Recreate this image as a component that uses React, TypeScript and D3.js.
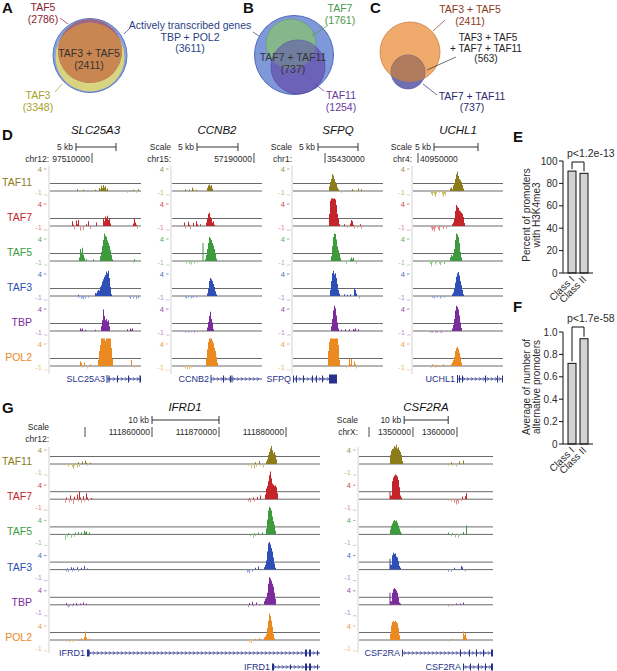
import * as d3 from 'd3';

type Pt = [number, number];

const FONT = '"Liberation Sans", Arial, Helvetica, sans-serif';
const INK = '#2a2a2a';
const GENE = '#27308a';
const CLIP = 4.6;

// ---- Venn counts ----
const vennANames = ['TAF5', 'TAF3', 'TAF3 + TAF5'];
const vennACounts = [2786, 3348, 2411];
const activeNames = ['Actively transcribed genes', 'TBP + POL2'];
const activeCount = 3611;
const vennBNames = ['TAF7', 'TAF11', 'TAF7 + TAF11'];
const vennBCounts = [1761, 1254, 737];
const vennCNames = ['TAF3 + TAF5', 'TAF3 + TAF5', '+ TAF7 + TAF11', 'TAF7 + TAF11'];
const vennCCounts = [2411, 563, 737];

// ---- bar panels E / F ----
const barClasses = ['Class I', 'Class II'];
const h3k4me3Pct = [91, 89];
const pctTicks = [0, 20, 40, 60, 80, 100];
const altPromoters = [0.72, 0.94];
const altTicks = [0, 0.2, 0.4, 0.6, 0.8, 1.0];
const pValues = ['p<1.2e-13', 'p<1.7e-58'];

// ---- tracks ----
const trackNames = ['TAF11', 'TAF7', 'TAF5', 'TAF3', 'TBP', 'POL2'];
const trackColors = ['#8c7c1c', '#c4252b', '#3d9b3d', '#2e4fb5', '#7b2c9c', '#ec8a22'];
const trackNegColors = ['#c9bd72', '#e38b8f', '#96c98f', '#8fa2da', '#b98fce', '#f3bb7c'];
const trackTicks = [4, -1];

// ---- loci, panel D ----
const lociD = ['SLC25A3', 'CCNB2', 'SFPQ', 'UCHL1'];
const lociDChrom = ['chr12', 'chr15', 'chr1', 'chr4'];
const lociDStart = [97504750, 57180000, 35426000, 40949432];
const lociDBinBp = [125, 122, 125, 113.6];
const lociDCoord = [97510000, 57190000, 35430000, 40950000];
const lociDScaleStart = [97508000, 57183050, 35429125, 40951818];

// ---- loci, panel G ----
const lociG = ['IFRD1', 'CSF2RA'];
const lociGChrom = ['chr12', 'chrX'];
const lociGStart = [111844776, 1337727];
const lociGBinBp = [149.25, 227.3];
const lociGTicks = [[111850000, 111860000, 111870000, 111880000], [1340000, 1350000, 1360000]];
const lociGScaleStart = [111860000, 1348000];

// ---- signals: [bin, value] ----
const sigSLC25A3: Pt[][] = [
  [[26,0],[27,0.3],[28,0],[30,-0.2],[31,0],[33,0.2],[34,0],[44,0],[45,0.2],[46,0],[48,0],[49,0.5],[50,0.3],[51,0.9],[52,0.5],[53,1],[54,0.6],[55,0.8],[56,0.2],[57,0.4],[58,0],[76,0],[77,-0.3],[78,0],[82,0],[83,0.2],[84,0],[86,-0.3],[87,0],[88,0.3],[89,0]],
  [[21,0],[22,0.8],[23,0.2],[24,-0.6],[25,0],[26,0.9],[27,0.3],[28,1.0],[29,0],[30,-0.8],[31,0],[33,-0.7],[34,0],[36,0.3],[37,0],[38,0.8],[39,0],[40,-0.5],[41,0],[45,0],[46,0.6],[47,0],[52,0],[53,1.2],[54,0.8],[55,1.6],[56,1.2],[57,1.7],[58,1.0],[59,1.3],[60,0.4],[61,0],[82,0],[83,0.4],[84,1.2],[85,0.6],[86,0.2],[87,-0.4],[88,0]],
  [[28,0],[29,0.6],[30,2.0],[31,1.4],[32,2.2],[33,1.0],[34,0.5],[35,0],[36,0.3],[37,0],[42,0],[43,0.3],[44,0],[49,0],[50,0.8],[51,1.5],[52,2.5],[53,3.5],[54,4.6],[55,4.2],[56,4.0],[57,3.4],[58,3.0],[59,2.5],[60,1.8],[61,1.0],[62,0.3],[63,0],[82,0],[83,-0.3],[84,0.3],[85,0],[87,-0.2],[88,0]],
  [[26,0],[27,-0.2],[28,0.2],[29,-0.3],[30,0],[31,-0.5],[32,-0.3],[33,-0.6],[34,-0.2],[35,-0.4],[36,0],[38,-0.3],[39,0],[44,0],[45,0.5],[46,0.4],[47,0.8],[48,1.0],[49,0.9],[50,1.5],[51,1.8],[52,2.4],[53,2.8],[54,3.2],[55,3.5],[56,4.1],[57,3.8],[58,4.2],[59,3.0],[60,1.5],[61,0.3],[62,0],[78,0],[79,-0.3],[80,-0.5],[81,0],[83,-0.4],[84,0],[86,-0.5],[87,-0.2],[88,-0.4],[89,0]],
  [[29,0],[30,0.4],[31,0.2],[32,0.4],[33,0],[35,0.2],[36,0],[44,0],[45,0.2],[46,0],[50,0],[51,0.8],[52,1.8],[53,3.6],[54,2.5],[55,1.8],[56,2.0],[57,1.6],[58,1.8],[59,0.8],[60,0],[76,0],[77,0.3],[78,0],[80,0.4],[81,0.2],[82,0.4],[83,0]],
  [[29,0],[30,0.8],[31,0.5],[32,-0.3],[33,0],[34,0.6],[35,0],[37,-0.4],[38,0],[40,0.3],[41,0],[47,0],[48,1.0],[49,2.5],[50,3.5],[51,4.6],[54,4.6],[55,4.2],[56,4.6],[60,4.6],[61,3.0],[62,1.2],[63,0],[80,0],[81,1.0],[82,0],[84,-0.3],[85,0]],
];
const sigCCNB2: Pt[][] = [
  [[12,0],[13,0.3],[14,0],[17,0.2],[18,0],[20,0.6],[21,0.2],[22,0],[24,0.2],[25,0],[34,0],[35,0.5],[36,0.9],[37,1.1],[38,0.8],[39,1.0],[40,0.4],[41,0]],
  [[11,0],[12,0.6],[13,-0.4],[14,0],[16,0.7],[17,0.2],[18,-0.5],[19,0],[21,0.5],[22,0],[24,0.8],[25,0.3],[26,0],[28,0.3],[29,0],[33,0],[34,0.6],[35,1.2],[36,2.0],[37,2.2],[38,1.5],[39,1.2],[40,0.6],[41,0.8],[42,0.2],[43,0]],
  [[13,0],[14,-0.4],[15,0],[17,-0.5],[18,-0.2],[19,-0.6],[20,0],[22,-0.4],[23,0],[25,-0.3],[26,0],[30,0],[30.5,3.0],[31.5,0],[33,0.3],[34,1.0],[35,2.0],[36,3.0],[37,4.0],[38,3.8],[39,3.5],[40,3.0],[41,2.6],[42,2.0],[43,1.2],[44,0.4],[45,0]],
  [[12,0],[13,-0.3],[14,-0.4],[15,0],[16,-0.3],[17,0],[19,-0.4],[20,-0.2],[21,-0.3],[22,0],[24,-0.3],[25,0],[34,0],[35,0.4],[36,1.2],[37,2.5],[38,3.0],[39,2.8],[40,2.5],[41,2.0],[42,1.5],[43,0.8],[44,0.3],[45,0]],
  [[12,0],[13,-0.3],[14,0],[16,-0.3],[17,0],[19,-0.2],[20,0],[22,-0.3],[23,0],[25,-0.2],[26,0],[34,0],[35,0.6],[36,1.5],[37,2.5],[38,3.2],[39,2.0],[40,1.4],[41,0.3],[42,0]],
  [[12,0],[13,-0.4],[14,0],[15,-0.6],[16,-0.2],[17,-0.5],[18,0],[19,-0.3],[20,0],[33,0],[34,1.2],[35,2.8],[36,4.0],[37,4.6],[39,4.6],[40,4.2],[41,3.8],[42,3.0],[43,2.5],[44,1.5],[45,0.5],[46,0]],
];
const sigSFPQ: Pt[][] = [
  [[35,0],[36,0.8],[37,1.5],[38,2.0],[39,2.8],[40,2.6],[41,2.0],[42,1.5],[43,1.3],[44,0.6],[45,0.3],[46,0],[48,-0.3],[49,0],[58,0],[59,0.3],[60,0],[62,-0.2],[63,0],[65,0.4],[66,0],[68,0.3],[69,0]],
  [[35,0],[36,2.0],[37,4.2],[38,4.6],[41,4.6],[42,4.4],[43,3.5],[44,2.0],[45,1.2],[46,0.3],[47,0],[50,0],[51,0.3],[52,0],[54,-0.3],[55,0],[57,0.4],[58,1.0],[59,0.8],[60,0.2],[61,-0.4],[62,0],[64,-0.3],[65,0],[67,0.3],[68,-0.5],[69,0]],
  [[37,0],[38,0.8],[39,2.5],[40,4.0],[41,4.6],[42,4.5],[43,3.6],[44,2.4],[45,1.8],[46,1.2],[47,0.5],[48,0],[52,0],[53,-0.5],[54,0],[57,0.3],[58,0.6],[59,0.3],[60,0.6],[61,0],[63,-0.4],[64,0]],
  [[36,0],[37,1.0],[38,2.5],[39,3.8],[40,4.2],[41,3.6],[42,3.8],[43,3.0],[44,2.0],[45,1.0],[46,0.4],[47,0],[50,0],[51,0.3],[52,0],[54,0.2],[55,0],[57,0.3],[58,0],[60,0],[61,1.3],[62,1.0],[63,0.4],[64,0],[66,-0.4],[67,0]],
  [[37,0],[38,0.8],[39,2.0],[40,3.4],[41,4.2],[42,3.8],[43,2.6],[44,1.4],[45,0.4],[46,0],[48,0.2],[49,0],[52,0.3],[53,0],[56,0.3],[57,0],[60,0.3],[61,0.2],[62,0.4],[63,0],[65,0.3],[66,0]],
  [[34,0],[35,2.5],[36,4.0],[37,4.6],[44,4.6],[45,3.5],[46,1.0],[47,0],[52,0],[53,-0.4],[54,0],[56,1.2],[57,0.3],[58,1.2],[59,0],[61,0.8],[62,0.3],[63,-0.4],[64,0]],
];
const sigUCHL1: Pt[][] = [
  [[17,0],[18,-0.5],[19,-0.8],[20,-0.3],[21,-0.6],[22,-1.0],[23,-0.4],[24,0],[26,-0.3],[27,0],[29,-0.6],[30,-0.9],[31,-0.5],[32,-0.7],[33,0],[36,0],[37,0.4],[38,0.6],[39,0.3],[40,0.9],[41,1.2],[42,2.0],[43,2.8],[44,3.2],[45,2.5],[46,2.0],[47,1.8],[48,1.5],[49,1.0],[50,0.4],[51,0]],
  [[17,0],[18,-0.4],[19,-0.8],[20,-0.5],[21,-0.9],[22,-0.3],[23,0],[25,-0.6],[26,-0.8],[27,-0.2],[28,0],[30,-0.5],[31,0],[33,-0.4],[34,0],[38,0],[39,0.3],[40,0.6],[41,1.2],[42,2.5],[43,3.5],[44,3.2],[45,3.0],[46,2.6],[47,2.4],[48,2.2],[49,2.0],[50,1.5],[51,0.5],[52,0]],
  [[16,0],[17,-0.5],[18,-0.9],[19,-0.3],[20,0],[22,-0.6],[23,-0.3],[24,0],[26,-0.4],[27,-0.7],[28,-0.3],[29,0],[31,-0.5],[32,-0.2],[33,0],[36,0],[37,0.6],[38,1.0],[39,0.8],[40,1.2],[41,2.0],[42,3.5],[43,4.6],[44,4.4],[45,4.0],[46,3.0],[47,1.5],[48,0.6],[49,0]],
  [[18,0],[19,-0.3],[20,-0.2],[21,-0.4],[22,0],[24,-0.3],[25,0],[27,-0.4],[28,-0.2],[29,0],[31,-0.3],[32,0],[38,0],[39,0.3],[40,0.6],[41,1.2],[42,2.2],[43,3.2],[44,3.8],[45,4.0],[46,3.4],[47,2.5],[48,1.8],[49,1.0],[50,0.3],[51,0]],
  [[16,0],[17,-0.3],[18,-0.2],[19,-0.3],[20,0],[22,-0.3],[23,-0.2],[24,-0.3],[25,0],[27,-0.3],[28,-0.2],[29,-0.3],[30,0],[33,-0.2],[34,0],[38,0],[39,0.4],[40,1.0],[41,2.0],[42,3.4],[43,4.2],[44,4.0],[45,3.6],[46,2.6],[47,1.4],[48,0.5],[49,0]],
  [[17,0],[18,-0.3],[19,0.3],[20,0],[22,-0.3],[23,0.2],[24,0],[27,-0.2],[28,0],[30,0.3],[31,0],[37,0],[38,0.3],[39,0.6],[40,1.0],[41,1.5],[42,2.5],[43,3.0],[44,3.2],[45,2.8],[46,2.2],[47,1.5],[48,0.6],[49,0]],
];
const sigIFRD1: Pt[][] = [
  [[14,0],[15,-0.2],[16,0],[18,-0.4],[19,0],[22,-0.5],[23,-0.8],[24,-0.3],[25,0],[27,-0.6],[28,0.3],[29,-0.4],[30,0],[32,0.4],[33,0],[35,0.6],[36,0.2],[37,-0.3],[38,0],[40,0.2],[41,0],[197,0],[198,-0.3],[199,0],[201,-0.7],[202,0],[204,-0.8],[205,0.3],[206,-0.4],[207,0],[209,0.5],[210,-0.3],[211,0],[213,-0.6],[214,0],[216,0.4],[217,0.8],[218,1.5],[219,2.0],[220,2.6],[221,3.0],[222,2.3],[223,1.8],[224,2.0],[225,1.5],[226,0.8],[227,0]],
  [[14,0],[15,-0.6],[16,0.3],[17,0],[19,-0.5],[20,0.6],[21,-0.3],[22,0],[23,-0.8],[24,0.4],[25,0],[27,0.8],[28,-0.4],[29,1.2],[30,0.3],[31,-0.6],[32,0],[33,0.5],[34,-0.4],[35,0],[36,1.0],[37,0.3],[38,-0.3],[39,0],[41,0.2],[42,0],[197,0],[198,-0.4],[199,0.2],[200,-0.5],[201,0],[203,0.3],[204,-0.4],[205,0],[207,0.4],[208,0],[210,0.6],[211,0],[214,0],[215,0.8],[216,1.8],[217,2.2],[218,3.0],[219,4.0],[220,4.6],[221,3.5],[222,2.6],[223,2.4],[224,2.2],[225,2.3],[226,2.0],[227,1.0],[228,0]],
  [[14,0],[15,-0.9],[16,0],[17,-0.4],[18,0.2],[19,0],[21,-0.6],[22,0],[24,-0.4],[25,0.3],[26,0],[28,0.4],[29,0],[31,0.3],[32,0],[34,0.6],[35,0.3],[36,0.5],[37,0],[39,0.3],[40,0],[199,0],[200,-0.3],[201,0],[203,-0.6],[204,0.2],[205,-0.3],[206,0],[208,0.3],[209,-0.2],[210,0],[212,0.3],[213,0],[215,0],[216,1.0],[217,2.5],[218,4.0],[219,4.6],[220,4.4],[221,4.0],[222,3.0],[223,2.2],[224,1.6],[225,0.6],[226,0]],
  [[15,0],[16,-0.3],[17,0.2],[18,-0.4],[19,0],[21,0.4],[22,-0.3],[23,0.3],[24,-0.2],[25,0],[27,0.4],[28,-0.3],[29,0],[31,0.3],[32,0],[34,0.6],[35,0],[37,0.2],[38,0],[196,0],[197,-0.5],[198,-0.3],[199,-0.6],[200,0],[202,-0.4],[203,0],[205,0.3],[206,0],[208,0.5],[209,0],[213,0],[214,0.4],[215,0.8],[216,1.5],[217,3.0],[218,4.4],[219,4.6],[220,4.2],[221,3.6],[222,3.0],[223,2.0],[224,1.0],[225,0.3],[226,0]],
  [[15,0],[16,0.3],[17,-0.2],[18,-0.4],[19,-0.3],[20,0],[22,-0.3],[23,0.2],[24,0],[26,0.3],[27,-0.2],[28,0],[30,0.2],[31,0],[33,0.4],[34,0],[36,0.2],[37,0],[197,0],[198,-0.4],[199,0.3],[200,0],[202,0.5],[203,-0.3],[204,0],[206,0.4],[207,0],[209,-0.2],[210,0],[213,0],[214,0.6],[215,1.0],[216,1.2],[217,2.0],[218,3.5],[219,4.6],[220,4.4],[221,4.0],[222,3.5],[223,3.0],[224,2.0],[225,1.0],[226,0]],
  [[15,0],[16,-0.3],[17,0],[19,-0.4],[20,0],[22,-0.3],[23,0],[25,-0.2],[26,0],[30,0],[31,0.3],[32,0],[34,0.5],[35,1.4],[36,0.4],[37,0],[39,0.2],[40,0],[198,0],[199,-0.4],[200,-0.2],[201,-0.5],[202,0],[205,0.2],[206,0],[209,0.3],[210,0],[213,0],[214,0.4],[215,0.6],[216,1.0],[217,2.0],[218,3.2],[219,4.4],[220,4.0],[221,3.2],[222,2.2],[223,1.0],[224,0.3],[225,0]],
];
const sigCSF2RA: Pt[][] = [
  [[30,0],[31,1.5],[32,2.2],[33,2.5],[34,2.6],[35,3.0],[36,2.8],[37,3.2],[38,2.6],[39,2.8],[40,2.3],[41,2.0],[42,1.5],[43,0.5],[44,0],[88,0],[89,-0.3],[90,0],[92,0.3],[93,-0.3],[94,0],[97,-0.4],[98,0],[100,0.4],[101,0],[104,0.6],[105,0],[107,-0.2],[108,0]],
  [[30,0],[30.5,1.2],[31.5,0.6],[33,3.0],[34,3.6],[35,3.9],[36,4.1],[37,4.0],[38,3.8],[39,3.2],[40,2.0],[41,0.6],[42,0.3],[43,0],[88,0],[89,-0.2],[90,0],[92,-0.4],[93,0],[95,-0.6],[96,-0.2],[97,-0.9],[98,-0.3],[99,-0.7],[100,0],[102,-0.3],[103,0.4],[104,0],[106,0.5],[107,1.0],[108,0]],
  [[30,0],[31,0.8],[32,1.5],[33,1.8],[34,2.2],[35,2.4],[36,2.2],[37,2.3],[38,2.0],[39,1.5],[40,1.0],[41,0.5],[42,0.2],[43,0],[88,0],[89,0.3],[90,0],[92,-0.3],[93,0.2],[94,0],[96,-0.5],[97,0],[99,-0.6],[100,-0.2],[101,0],[104,0.4],[105,0],[107,1.5],[108,0]],
  [[30,0],[30.5,1.8],[31.5,0.8],[33,2.4],[34,2.8],[35,2.6],[36,2.7],[37,2.2],[38,2.0],[39,1.4],[40,0.6],[41,0.3],[42,0],[88,0],[89,-0.4],[90,0],[92,-0.4],[93,0],[95,0.3],[96,0],[101,0],[102,0.6],[103,0.4],[104,0],[106,-0.3],[107,0]],
  [[30,0],[30.5,2.0],[31.5,0.6],[33,2.0],[34,2.6],[35,2.8],[36,2.6],[37,2.4],[38,2.0],[39,1.2],[40,0.4],[41,0.2],[42,0],[88,0],[89,-0.3],[90,0],[93,-0.2],[94,0],[97,0.2],[98,0],[101,0.2],[102,0],[104,0.4],[105,0]],
  [[30,0],[31,1.0],[32,2.4],[33,3.0],[34,3.2],[35,3.0],[36,3.2],[37,3.0],[38,2.8],[39,2.0],[40,0.8],[41,0],[88,0],[89,-0.3],[90,0],[93,0.2],[94,0],[103,0],[104,1.4],[105,0.8],[106,1.2],[107,0.3],[108,0]],
];
const signalsD = [sigSLC25A3, sigCCNB2, sigSFPQ, sigUCHL1];
const signalsG = [sigIFRD1, sigCSF2RA];

// ---- gene models: span and exons in bins ----
type GeneModel = { name: string; locus: number; row: number; span: Pt; exons: [number, number, number][] };
const genesD: GeneModel[] = [
  { name: 'SLC25A3', locus: 0, row: 0, span: [57, 91], exons: [[56.5,57.5,8],[58.5,59.5,7],[67,68,7],[78,79,7],[89.5,91,7]] },
  { name: 'CCNB2', locus: 1, row: 0, span: [39, 90], exons: [[38.5,39.5,8],[51,52,7],[58,59,7],[59.5,60.5,7]] },
  { name: 'SFPQ', locus: 2, row: 0, span: [0, 44], exons: [[0,1,7],[3,4,7],[10,11,7],[19,20,7],[23,24,7],[29,30,7],[36,44,9]] },
  { name: 'UCHL1', locus: 3, row: 0, span: [44, 90], exons: [[44,45,8],[46,47,7],[49,50,7],[72,73,7],[84,85,7],[89,90,7]] },
];
const genesG: GeneModel[] = [
  { name: 'IFRD1', locus: 0, row: 0, span: [37, 270], exons: [[37,39.5,7],[255,257,7],[259,261,7],[267,268,5]] },
  { name: 'IFRD1', locus: 0, row: 1, span: [222, 270], exons: [[222,224,7],[240,241,5],[255,257,7],[259,261,7],[267,268,5]] },
  { name: 'CSF2RA', locus: 1, row: 0, span: [43, 134], exons: [[43,44,7],[101,102,7],[110,111,7],[117,118,7],[124,125,7],[132,134,7]] },
  { name: 'CSF2RA', locus: 1, row: 1, span: [104, 134], exons: [[104,105,7],[111,112,7],[119,120,7],[126,127,7],[132,134,7]] },
];

// ---- layout ----
const lociDX = [50, 172, 293, 413];
const lociDW = [91, 90, 90, 90];
const lociDCoordAnchor = ['end', 'end', 'start', 'start'];
const lociGX = [50, 359];
const lociGW = [270, 134];
const dTrackY0 = trackNames.map((_, i) => 191 + i * 35);
const gTrackY0 = trackNames.map((_, i) => 464 + i * 35.2);
const gScaleLabelY = [430, 423];
const gChromLabelY = [442, 435];
const gGeneRowY = [653, 667];

function Letter({ x, y, t }: { x: number; y: number; t: string }) {
  return <text x={x} y={y} fontSize={15} fontWeight="bold" fill="#111">{t}</text>;
}

function Track({ pts, bx, xL, xR, y0, k }: { pts: Pt[]; bx: (b: number) => number; xL: number; xR: number; y0: number; k: number }) {
  const y = d3.scaleLinear().domain([-1, CLIP]).range([y0 + 6, y0 - 6 * CLIP]).clamp(true);
  const area = d3.area<Pt>().x(d => bx(d[0])).y0(y(0)).y1(d => y(d[1])).curve(d3.curveStepAfter);
  const pos = pts.map(([b, v]) => [b, Math.max(v, 0)] as Pt);
  const neg = pts.map(([b, v]) => [b, Math.min(v, 0)] as Pt);
  return (
    <g>
      <line x1={xL} x2={xR} y1={y0 - 7.5} y2={y0 - 7.5} stroke="#5a5a5a" strokeWidth={0.9} />
      <line x1={xL} x2={xR} y1={y0} y2={y0} stroke="#5a5a5a" strokeWidth={0.9} />
      <path d={area(neg) ?? ''} fill={trackNegColors[k]} />
      <path d={area(pos) ?? ''} fill={trackColors[k]} />
    </g>
  );
}

function TrackTicks({ x0, y0, k, top, bot }: { x0: number; y0: number; k: number; top: number; bot: number }) {
  return (
    <g fontSize={7.5}>
      <text x={x0 - 8} y={y0 + top + 2.6} textAnchor="end" fill={trackColors[k]} opacity={0.85}>{trackTicks[0]}</text>
      <line x1={x0 - 6} x2={x0 - 3.5} y1={y0 + top} y2={y0 + top} stroke={trackColors[k]} strokeWidth={0.6} />
      <text x={x0 - 8} y={y0 + bot + 2.6} textAnchor="end" fill={trackNegColors[k]}>{trackTicks[1]}</text>
      <line x1={x0 - 6} x2={x0 - 2.5} y1={y0 + bot + 3} y2={y0 + bot + 3} stroke={trackNegColors[k]} strokeWidth={0.6} />
    </g>
  );
}

function ScaleBar({ x1, x2, y }: { x1: number; x2: number; y: number }) {
  return (
    <g stroke="#333" strokeWidth={1}>
      <line x1={x1} x2={x2} y1={y} y2={y} />
      <line x1={x1} x2={x1} y1={y - 4} y2={y + 4} />
      <line x1={x2} x2={x2} y1={y - 4} y2={y + 4} />
    </g>
  );
}

function Gene({ g, bx, y }: { g: GeneModel; bx: (b: number) => number; y: number }) {
  const xa = bx(g.span[0]);
  const xb = bx(g.span[1]);
  const chevrons = d3.range(xa + 3, xb - 1.5, 4);
  return (
    <g>
      <text x={xa - 2} y={y + 3.2} textAnchor="end" fontSize={9} fill={GENE}>{g.name}</text>
      <line x1={xa} x2={xb} y1={y} y2={y} stroke={GENE} strokeWidth={0.9} />
      {chevrons.map((c, i) => (
        <path key={i} d={`M${c - 1},${y - 1.8} L${c + 0.6},${y} L${c - 1},${y + 1.8}`} fill="none" stroke={GENE} strokeWidth={0.7} />
      ))}
      {g.exons.map((e, i) => (
        <rect key={i} x={bx(e[0])} y={y - e[2] / 2} width={Math.max(1, bx(e[1]) - bx(e[0]))} height={e[2]} fill={GENE} />
      ))}
    </g>
  );
}

function LocusD({ k }: { k: number }) {
  const x0 = lociDX[k];
  const w = lociDW[k];
  const start = lociDStart[k];
  const bp = lociDBinBp[k];
  const x = d3.scaleLinear().domain([start, start + w * bp]).range([x0, x0 + w]);
  const bx = (b: number) => x(start + b * bp);
  const barL = x(lociDScaleStart[k]);
  const barR = x(lociDScaleStart[k] + 5000);
  const tick = x(lociDCoord[k]);
  const endAnchor = lociDCoordAnchor[k] === 'end';
  return (
    <g>
      <text x={x0 + w / 2} y={134} textAnchor="middle" fontStyle="italic" fontSize={11.5} fill="#111">{lociD[k]}</text>
      {k > 0 && <text x={x0 - 1} y={150} textAnchor="end" fontSize={8.5} fill={INK}>Scale</text>}
      <text x={barL - 3} y={150} textAnchor="end" fontSize={8.5} fill={INK}>5 kb</text>
      <ScaleBar x1={barL} x2={barR} y={147} />
      <text x={x0 - 1} y={162} textAnchor="end" fontSize={8.5} fill={INK}>{lociDChrom[k]}:</text>
      <line x1={tick} x2={tick} y1={153} y2={163} stroke="#333" strokeWidth={0.9} />
      <text x={endAnchor ? tick - 2 : tick + 2} y={162} textAnchor={endAnchor ? 'end' : 'start'} fontSize={8.5} fill={INK}>{lociDCoord[k]}</text>
      <line x1={x0 - 1} x2={x0 - 1} y1={dTrackY0[0] - 25} y2={dTrackY0[5] + 8} stroke="#c8c8c8" strokeWidth={0.8} />
      {trackNames.map((_, t) => (
        <g key={t}>
          <TrackTicks x0={x0} y0={dTrackY0[t]} k={t} top={-22} bot={1} />
          <Track pts={signalsD[k][t]} bx={bx} xL={x0} xR={x0 + w} y0={dTrackY0[t]} k={t} />
        </g>
      ))}
      {genesD.filter(g => g.locus === k).map((g, i) => <Gene key={i} g={g} bx={bx} y={379} />)}
    </g>
  );
}

function LocusG({ k }: { k: number }) {
  const x0 = lociGX[k];
  const w = lociGW[k];
  const start = lociGStart[k];
  const bp = lociGBinBp[k];
  const x = d3.scaleLinear().domain([start, start + w * bp]).range([x0, x0 + w]);
  const bx = (b: number) => x(start + b * bp);
  const barL = x(lociGScaleStart[k]);
  const barR = x(lociGScaleStart[k] + 10000);
  return (
    <g>
      <text x={x0 + w / 2} y={411} textAnchor="middle" fontStyle="italic" fontSize={11.5} fill="#111">{lociG[k]}</text>
      <text x={x0 - 1} y={gScaleLabelY[k]} textAnchor="end" fontSize={8.5} fill={INK}>Scale</text>
      <text x={barL - 3} y={423} textAnchor="end" fontSize={8.5} fill={INK}>10 kb</text>
      <ScaleBar x1={barL} x2={barR} y={420} />
      <text x={x0 - 1} y={gChromLabelY[k]} textAnchor="end" fontSize={8.5} fill={INK}>{lociGChrom[k]}:</text>
      {lociGTicks[k].map(t => {
        const tx = x(t);
        const label = String(t);
        const fits = tx - label.length * 4.8 - 3 > x0;
        return (
          <g key={t}>
            <line x1={tx} x2={tx} y1={427} y2={437} stroke="#333" strokeWidth={0.9} />
            {fits && <text x={tx - 2} y={435} textAnchor="end" fontSize={8.5} fill={INK}>{label}</text>}
          </g>
        );
      })}
      <line x1={x0 - 1} x2={x0 - 1} y1={gTrackY0[0] - 17} y2={gTrackY0[5] + 13} stroke="#c8c8c8" strokeWidth={0.8} />
      {trackNames.map((_, t) => (
        <g key={t}>
          <TrackTicks x0={x0} y0={gTrackY0[t]} k={t} top={-14} bot={8} />
          <Track pts={signalsG[k][t]} bx={bx} xL={x0} xR={x0 + w} y0={gTrackY0[t]} k={t} />
        </g>
      ))}
      {genesG.filter(g => g.locus === k).map((g, i) => <Gene key={i} g={g} bx={bx} y={gGeneRowY[g.row]} />)}
    </g>
  );
}

function BarPanel({ values, ticks, fmt, yTop, yBot, titles, p, bracketY, titleMid }: {
  values: number[]; ticks: number[]; fmt: (v: number) => string; yTop: number; yBot: number;
  titles: string[]; p: string; bracketY: number; titleMid: number;
}) {
  const axisX = 563;
  const y = d3.scaleLinear().domain([0, ticks[ticks.length - 1]]).range([yBot, yTop]);
  const x = d3.scaleBand().domain(barClasses).range([566, 590]).paddingInner(1 / 3).paddingOuter(1 / 6);
  const bw = x.bandwidth();
  const c0 = (x(barClasses[0]) ?? 0) + bw / 2;
  const c1 = (x(barClasses[1]) ?? 0) + bw / 2;
  return (
    <g fontSize={10} fill={INK}>
      {barClasses.map((c, i) => (
        <rect key={c} x={x(c)} y={y(values[i])} width={bw} height={yBot - y(values[i])} fill="#d3d3d3" stroke="#111" strokeWidth={1} />
      ))}
      <line x1={axisX} x2={axisX} y1={yTop} y2={yBot} stroke="#111" />
      <line x1={axisX} x2={593} y1={yBot} y2={yBot} stroke="#111" />
      {ticks.map(t => (
        <g key={t}>
          <line x1={axisX - 4} x2={axisX} y1={y(t)} y2={y(t)} stroke="#111" />
          <text x={axisX - 5.5} y={y(t) + 3.6} textAnchor="end">{fmt(t)}</text>
        </g>
      ))}
      {barClasses.map(c => (
        <text key={c} transform={`translate(${(x(c) ?? 0) + bw / 2 + 3},${yBot + 7}) rotate(-45)`} textAnchor="end">{c}</text>
      ))}
      <path d={`M${c0},${y(values[0]) - 2} V${bracketY} H${c1} V${y(values[1]) - 2}`} fill="none" stroke="#111" />
      <text x={567} y={bracketY - 5} fontSize={10.5}>{p}</text>
      {titles.map((t, i) => (
        <text key={t} transform={`translate(${530 + i * 9.5},${titleMid}) rotate(-90)`} textAnchor="middle" fontSize={10}>{t}</text>
      ))}
    </g>
  );
}

function VennA() {
  return (
    <g fontSize={10.5} textAnchor="middle">
      <defs>
        <clipPath id="clipA"><circle cx={90} cy={57} r={34.5} /></clipPath>
      </defs>
      <circle cx={90} cy={55.5} r={37} fill="#8aa2d8" stroke="#5b76bf" strokeWidth={1} />
      <circle cx={90} cy={57} r={34.5} fill="#d9d47f" />
      <circle cx={90} cy={51} r={32} fill="#9c6886" />
      <circle cx={90} cy={51} r={32} fill="#c98650" clipPath="url(#clipA)" />
      <line x1={60} y1={18} x2={68} y2={24} stroke="#8b1e2e" strokeWidth={0.7} />
      <line x1={55} y1={92} x2={62} y2={84} stroke="#a8a02a" strokeWidth={0.7} />
      <line x1={129} y1={29} x2={124} y2={34} stroke="#2b3f85" strokeWidth={0.7} />
      <line x1={253} y1={32} x2={259} y2={36} stroke="#2b3f85" strokeWidth={0.7} />
      <text x={43} y={11} fill="#8b1e2e">{vennANames[0]}</text>
      <text x={43} y={22.5} fill="#8b1e2e">({vennACounts[0]})</text>
      <text x={38} y={99} fill="#a8a02a">{vennANames[1]}</text>
      <text x={38} y={110.5} fill="#a8a02a">({vennACounts[1]})</text>
      <text x={89} y={57} fill="#333">{vennANames[2]}</text>
      <text x={89} y={68.5} fill="#333">({vennACounts[2]})</text>
      <text x={190} y={29} fill="#2b3f85">{activeNames[0]}</text>
      <text x={190} y={40.5} fill="#2b3f85">{activeNames[1]}</text>
      <text x={190} y={52} fill="#2b3f85">({activeCount})</text>
    </g>
  );
}

function VennB() {
  return (
    <g fontSize={10.5} textAnchor="middle">
      <defs>
        <clipPath id="clipB"><circle cx={291} cy={44} r={25} /></clipPath>
      </defs>
      <circle cx={294} cy={55} r={39.5} fill="#7f98da" stroke="#4e6ab8" strokeWidth={1} />
      <circle cx={291} cy={44} r={25} fill="#86b78c" stroke="#5f9a6c" strokeWidth={0.6} />
      <circle cx={298} cy={67} r={27} fill="#6c63b8" stroke="#4a3f9a" strokeWidth={0.6} />
      <circle cx={298} cy={67} r={27} fill="#717d9f" clipPath="url(#clipB)" />
      <line x1={327} y1={26} x2={312} y2={36} stroke="#4a9a4a" strokeWidth={0.7} />
      <line x1={315} y1={84} x2={324} y2={91} stroke="#6a3aa0" strokeWidth={0.7} />
      <text x={340} y={12} fill="#4a9a4a">{vennBNames[0]}</text>
      <text x={340} y={23.5} fill="#4a9a4a">({vennBCounts[0]})</text>
      <text x={341} y={99} fill="#6a3aa0">{vennBNames[1]}</text>
      <text x={341} y={110.5} fill="#6a3aa0">({vennBCounts[1]})</text>
      <text x={293} y={61} fill="#333">{vennBNames[2]}</text>
      <text x={293} y={72.5} fill="#333">({vennBCounts[2]})</text>
    </g>
  );
}

function VennC() {
  return (
    <g fontSize={10} textAnchor="middle">
      <defs>
        <clipPath id="clipC"><circle cx={410} cy={52} r={30} /></clipPath>
      </defs>
      <circle cx={410} cy={52} r={30} fill="#f0aa6b" stroke="#c9824a" strokeWidth={0.8} />
      <circle cx={408} cy={72} r={17} fill="#6f6fb2" stroke="#4f4f96" strokeWidth={0.6} />
      <circle cx={408} cy={72} r={17} fill="#b07a5c" clipPath="url(#clipC)" />
      <line x1={445} y1={20} x2={433} y2={31} stroke="#8a3a20" strokeWidth={0.7} />
      <line x1={456} y1={57} x2={427} y2={70} stroke="#333" strokeWidth={0.7} />
      <line x1={423} y1={84} x2={437} y2={95} stroke="#2a2a70" strokeWidth={0.7} />
      <text x={470} y={13} fontSize={10.5} fill="#8a3a20">{vennCNames[0]}</text>
      <text x={470} y={24.5} fontSize={10.5} fill="#8a3a20">({vennCCounts[0]})</text>
      <text x={488} y={41} fill="#222">{vennCNames[1]}</text>
      <text x={486} y={51.5} fill="#222">{vennCNames[2]}</text>
      <text x={486} y={62} fill="#222">({vennCCounts[1]})</text>
      <text x={472} y={100} fontSize={10.5} fill="#2a2a70">{vennCNames[3]}</text>
      <text x={472} y={111} fontSize={10.5} fill="#2a2a70">({vennCCounts[2]})</text>
    </g>
  );
}

export default function App() {
  return (
    <div style={{ position: 'absolute', left: 0, top: 0, background: '#fff' }}>
      <svg width={617} height={671} viewBox="0 0 617 671" style={{ display: 'block', fontFamily: FONT }}>
        <rect width={617} height={671} fill="#fff" />
        <VennA />
        <VennB />
        <VennC />
        <Letter x={2} y={12.5} t="A" />
        <Letter x={243} y={12.5} t="B" />
        <Letter x={370} y={12.5} t="C" />
        <Letter x={2} y={140} t="D" />
        <Letter x={513} y={142} t="E" />
        <Letter x={513} y={312} t="F" />
        <Letter x={2} y={413} t="G" />

        {lociD.map((_, k) => <LocusD key={k} k={k} />)}
        {trackNames.map((n, t) => (
          <text key={n} x={32} y={dTrackY0[t] - 5} textAnchor="end" fontSize={10.5} fill={trackColors[t]}>{n}</text>
        ))}

        {lociG.map((_, k) => <LocusG key={k} k={k} />)}
        {trackNames.map((n, t) => (
          <text key={n} x={32} y={gTrackY0[t] + 1} textAnchor="end" fontSize={10.5} fill={trackColors[t]}>{n}</text>
        ))}

        <BarPanel values={h3k4me3Pct} ticks={pctTicks} fmt={v => String(v)} yTop={161} yBot={273}
          titles={['Percent of promoters', 'with H3K4me3']} p={pValues[0]} bracketY={162} titleMid={215} />
        <BarPanel values={altPromoters} ticks={altTicks} fmt={v => (v === 0 ? '0' : v.toFixed(1))} yTop={332} yBot={444}
          titles={['Average of number of', 'alternative promoters']} p={pValues[1]} bracketY={327} titleMid={387} />
      </svg>
    </div>
  );
}
